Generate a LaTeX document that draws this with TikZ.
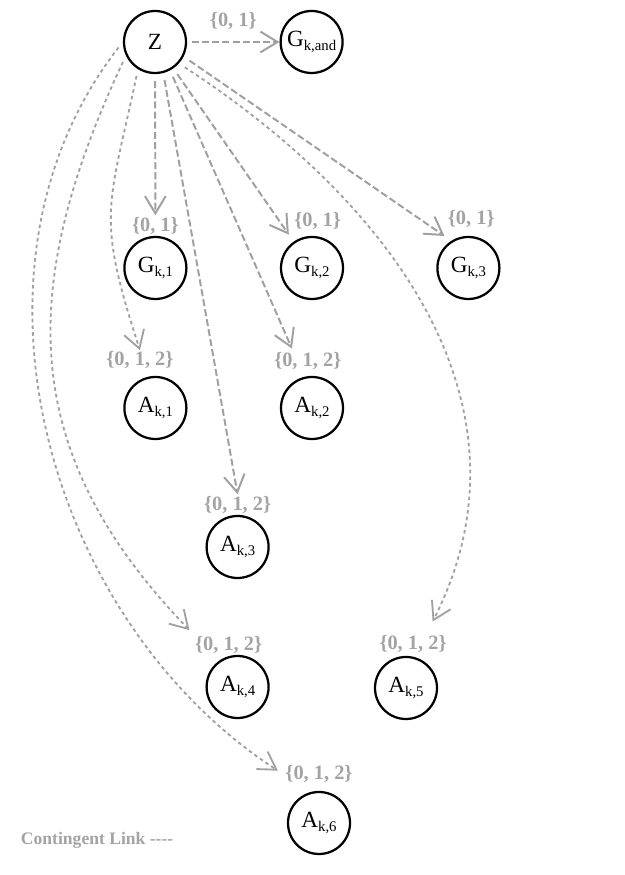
\documentclass[tikz,border=0pt]{standalone}
\usepackage{fontspec}
\setmainfont{Liberation Serif}
\usepackage{tikz}
\usetikzlibrary{
  arrows.meta,
  positioning
}
\definecolor{linkgray}{HTML}{A0A0A0}
\definecolor{labelgray}{HTML}{A3A3A3}
\newcommand{\nsub}[1]{\raisebox{-0.4ex}{\fontsize{10.5}{11}\selectfont #1}}
\tikzset{
  statenode/.style={
    circle, draw=black, line width=1.6pt,
    minimum size=1.55cm, inner sep=0pt,
    font=\fontsize{16.5}{18}\selectfont,
  },
  setlabel/.style={
    font=\fontsize{14.5}{16}\selectfont\bfseries,
    text=labelgray, inner sep=1pt,
  },
  linkarrow/.style={
    -{Straight Barb[length=4.3mm,width=5.2mm]},
  },
  requlink/.style={
    linkarrow, draw=linkgray, line width=1.4pt,
    dash pattern=on 5pt off 2.2pt, shorten <=5pt,
  },
  contlink/.style={
    linkarrow, draw=linkgray, line width=1.3pt,
    dash pattern=on 2.5pt off 2.3pt, shorten <=5pt,
  },
  legendtext/.style={
    font=\fontsize{12.5}{14}\selectfont\bfseries, text=labelgray,
  },
}

\begin{document}
\begin{tikzpicture}

  \useasboundingbox (0,0) rectangle (15.625,21.875);

  % ─── Root ─────────────────────────────────────────────────────────────
  \node[statenode] (z) at (3.875,20.825) {Z};

  % ─── Gates ────────────────────────────────────────────────────────────
  \node[statenode] (gand) at (7.79,20.825) {G\nsub{k,and}};
  \node[statenode] (g1) at (3.885,15.175) {G\nsub{k,1}};
  \node[statenode] (g2) at (7.8,15.175) {G\nsub{k,2}};
  \node[statenode] (g3) at (11.71,15.175) {G\nsub{k,3}};

  \node[setlabel, above=0pt of g1] (g1lab) {\{0, 1\}};
  \node[setlabel, above=2.9pt of g2, xshift=4pt] (g2lab) {\{0, 1\}};
  \node[setlabel, above=4.3pt of g3, xshift=2pt] (g3lab) {\{0, 1\}};

  % ─── Actions ──────────────────────────────────────────────────────────
  \node[statenode] (a1) at (3.885,11.675) {A\nsub{k,1}};
  \node[statenode] (a2) at (7.8,11.675) {A\nsub{k,2}};
  \node[statenode] (a3) at (5.94,8.2) {A\nsub{k,3}};
  \node[statenode] (a4) at (5.94,4.7) {A\nsub{k,4}};
  \node[statenode] (a5) at (10.15,4.675) {A\nsub{k,5}};
  \node[statenode] (a6) at (7.975,1.3) {A\nsub{k,6}};

  \node[setlabel, above=3.6pt of a1, xshift=-11pt] (a1lab) {\{0, 1, 2\}};
  \node[setlabel, above=2.9pt of a2, xshift=-3pt] (a2lab) {\{0, 1, 2\}};
  \node[setlabel, above=0pt of a3] (a3lab) {\{0, 1, 2\}};
  \node[setlabel, above=0pt of a4, xshift=-6.4pt] (a4lab) {\{0, 1, 2\}};
  \node[setlabel, above=0.8pt of a5, xshift=5pt] (a5lab) {\{0, 1, 2\}};
  \node[setlabel, above=4.3pt of a6] (a6lab) {\{0, 1, 2\}};

  % ─── Links from Z ─────────────────────────────────────────────────────
  \draw[requlink, shorten <=3.5pt] (z) -- node[setlabel, above=7pt] (gandlab) {\{0, 1\}} (gand);
  \draw[requlink] (z) -- (g1lab);
  \draw[requlink, shorten >=6pt] (z) -- (g2);
  \draw[requlink, shorten >=6pt] (z.-27) -- (g3.122);

  \draw[requlink, shorten >=2pt] (z.-62) -- (a2lab.145);
  \draw[requlink] (z.-75) -- (a3lab.north);

  % curved contingent links
  \draw[contlink] (z.238) to[out=258, in=108, looseness=1.3] (a1lab.north);
  \draw[contlink, shorten >=4pt] (z.205) to[out=245, in=134, looseness=1.12] (a4lab.north west);
  \draw[contlink, shorten >=10pt] (z.-42) to[out=-33, in=63, looseness=1.05] (a5lab.38);
  \draw[contlink, shorten >=5pt] (z.180) to[out=232, in=147, looseness=0.97] (a6lab.west);

  % ─── Legend ───────────────────────────────────────────────────────────
  \node[legendtext, anchor=west] (legend) at (0.4,0.875)
    {Contingent Link -\kern0pt-\kern0pt-\kern0pt-};

\end{tikzpicture}
\end{document}
